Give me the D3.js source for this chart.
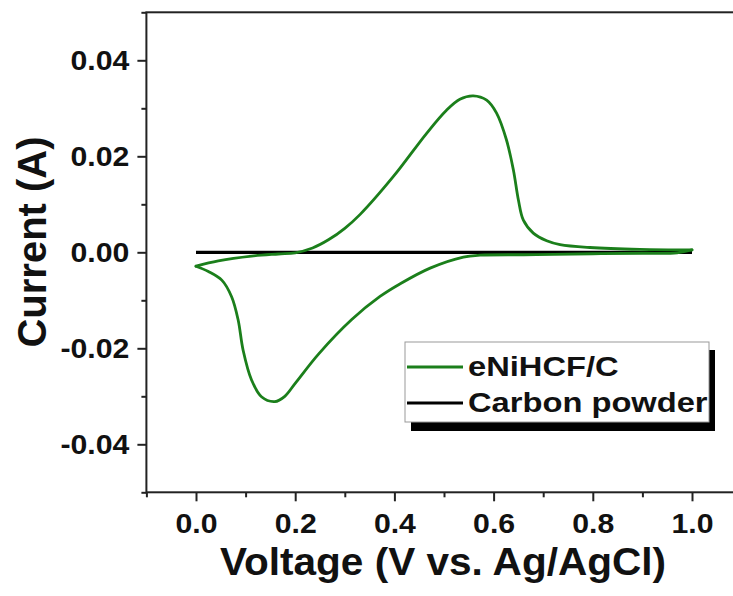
<!DOCTYPE html>
<html lang="en">

<head>
  <meta charset="UTF-8">
  <script src="https://d3js.org/d3.v7.min.js"></script>
  <style>
    body {
      margin: 0;
      background: #fff;
    }

    svg {
      display: block;
    }

    text {
      font-family: "Liberation Sans", Arial, sans-serif;
      font-weight: bold;
      fill: #111;
    }

    .tick line {
      stroke: #222;
      stroke-width: 2px;
    }
  </style>
</head>

<body>
  <div id="chart"></div>

  <script>
    // anodic sweep (0 V -> 1 V)
    const anodicV = [0.000, 0.045, 0.112, 0.166, 0.200, 0.235, 0.267, 0.300, 0.331, 0.398, 0.465, 0.505, 0.532,
      0.559, 0.586, 0.606, 0.626, 0.640, 0.650, 0.660, 0.680, 0.707, 0.734, 0.794, 0.895, 1.000];
    const anodicI = [-0.0029, -0.0018, -0.0008, -0.00035, -0.0001, 0.0009, 0.0026, 0.0050, 0.0079, 0.0158, 0.0248,
      0.0296, 0.0319, 0.0326, 0.0317, 0.0290, 0.0234, 0.0171, 0.0109, 0.0067, 0.0040, 0.0024, 0.0016, 0.0010, 0.0006, 0.0005];

    // cathodic sweep (listed from 0 V up to 1 V)
    const cathodicV = [0.000, 0.025, 0.052, 0.072, 0.085, 0.095, 0.112, 0.132, 0.159, 0.179, 0.200, 0.247, 0.314,
      0.371, 0.411, 0.472, 0.539, 0.573, 0.687, 0.800, 0.900, 0.970, 1.000];
    const cathodicI = [-0.0029, -0.0040, -0.0058, -0.0093, -0.0141, -0.0204, -0.0266, -0.0301, -0.0311, -0.0300,
      -0.0273, -0.0212, -0.0140, -0.0092, -0.0066, -0.0033, -0.0010, -0.0006, -0.0005, -0.0003, -0.0002, -0.0001, 0.0005];

    // carbon powder reference
    const carbonV = [0.0, 0.5, 1.0];
    const carbonI = [0.0, 0.0, 0.0];

    const xMajor = [0.0, 0.2, 0.4, 0.6, 0.8, 1.0];
    const xMinor = [-0.1, 0.1, 0.3, 0.5, 0.7, 0.9, 1.1];
    const yMajor = [-0.04, -0.02, 0.00, 0.02, 0.04];
    const yMinor = [-0.05, -0.03, -0.01, 0.01, 0.03, 0.05];

    const legendLabels = ['eNiHCF/C', 'Carbon powder'];
    const legendColors = ['#1b7f1b', '#000'];

    const width = 733, height = 596;
    const svg = d3.select('#chart').append('svg').attr('width', width).attr('height', height);

    const x = d3.scaleLinear().domain([0, 1]).range([196, 692]);
    const y = d3.scaleLinear().domain([-0.05, 0.05]).range([492.3, 12.3]);

    function stretch(sel, k) {
      sel.each(function () {
        const w = this.getComputedTextLength();
        d3.select(this).attr('textLength', w * k).attr('lengthAdjust', 'spacingAndGlyphs');
      });
    }

    // minor ticks
    svg.append('g').attr('transform', `translate(0,${y(-0.05)})`)
      .call(d3.axisBottom(x).tickValues(xMinor).tickSize(5).tickFormat(''))
      .call(g => g.select('.domain').remove());
    svg.append('g').attr('transform', `translate(${x(-0.1)},0)`)
      .call(d3.axisLeft(y).tickValues(yMinor).tickSize(5).tickFormat(''))
      .call(g => g.select('.domain').remove());

    // major ticks + labels
    const gx = svg.append('g').attr('transform', `translate(0,${y(-0.05)})`)
      .call(d3.axisBottom(x).tickValues(xMajor).tickSize(9).tickPadding(14).tickFormat(d => d.toFixed(1)))
      .call(g => g.select('.domain').remove());
    gx.selectAll('text').style('font-size', '27px').attr('dy', 0).attr('y', 40.5);
    stretch(gx.selectAll('text'), 1.12);

    const gy = svg.append('g').attr('transform', `translate(${x(-0.1)},0)`)
      .call(d3.axisLeft(y).tickValues(yMajor).tickSize(9).tickPadding(8).tickFormat(d => d.toFixed(2)))
      .call(g => g.select('.domain').remove());
    gy.selectAll('text').style('font-size', '27.5px');
    stretch(gy.selectAll('text'), 1.1);

    // frame
    svg.append('rect')
      .attr('x', x(-0.1)).attr('y', y(0.05))
      .attr('width', x(1.1) - x(-0.1)).attr('height', y(-0.05) - y(0.05))
      .attr('fill', 'none').attr('stroke', '#222').attr('stroke-width', 2);

    const line = d3.line().x(d => x(d[0])).y(d => y(d[1]));
    const smooth = d3.line().curve(d3.curveCatmullRom.alpha(0.5)).x(d => x(d[0])).y(d => y(d[1]));

    svg.append('path')
      .datum(carbonV.map((v, i) => [v, carbonI[i]]))
      .attr('d', line)
      .attr('fill', 'none').attr('stroke', '#000').attr('stroke-width', 3.2);

    [[anodicV, anodicI], [cathodicV, cathodicI]].forEach(([vs, is]) => {
      svg.append('path')
        .datum(vs.map((v, i) => [v, is[i]]))
        .attr('d', smooth)
        .attr('fill', 'none')
        .attr('stroke', legendColors[0])
        .attr('stroke-width', 2.8)
        .attr('stroke-linecap', 'round')
        .attr('stroke-linejoin', 'round');
    });

    // axis titles
    const xt = svg.append('text')
      .attr('x', 443).attr('y', 575)
      .attr('text-anchor', 'middle')
      .style('font-size', '39px')
      .text('Voltage (V vs. Ag/AgCl)');
    stretch(xt, 1.04);

    svg.append('text')
      .attr('transform', 'translate(46,242) rotate(-90)')
      .attr('text-anchor', 'middle')
      .style('font-size', '40px')
      .text('Current (A)');

    // legend
    const lg = svg.append('g').attr('transform', 'translate(405,342)');
    lg.append('rect').attr('x', 6).attr('y', 8).attr('width', 304).attr('height', 81).attr('fill', '#000');
    lg.append('rect').attr('width', 304).attr('height', 80)
      .attr('fill', '#fff').attr('stroke', '#999').attr('stroke-width', 1);

    const items = lg.selectAll('g.item')
      .data(legendLabels)
      .enter().append('g')
      .attr('class', 'item')
      .attr('transform', (d, i) => `translate(0,${25 + i * 36})`);

    items.append('line')
      .attr('x1', 2).attr('x2', 58)
      .attr('stroke', (d, i) => legendColors[i])
      .attr('stroke-width', 3);

    const lt = items.append('text')
      .attr('x', 63).attr('y', 9)
      .style('font-size', '27px')
      .text(d => d);
    stretch(lt, 1.21);
  </script>
</body>

</html>
